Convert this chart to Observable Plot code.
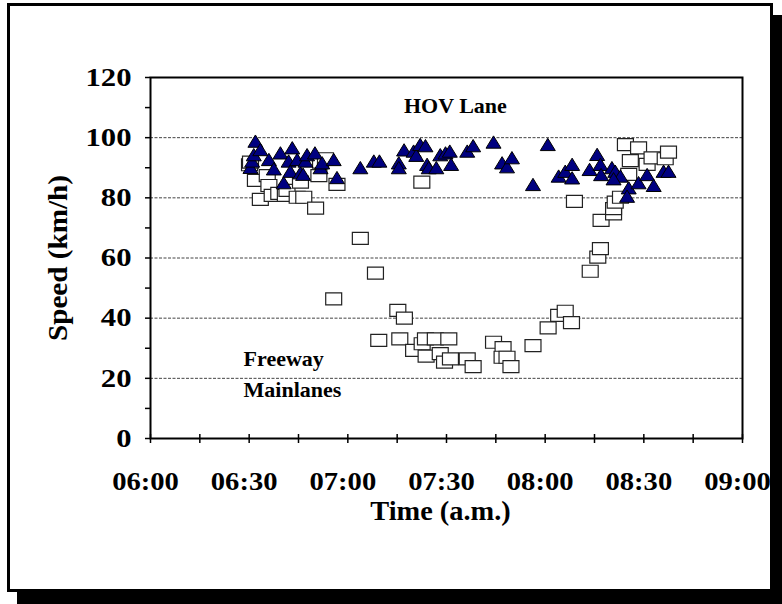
<!DOCTYPE html>
<html>
<head>
<meta charset="utf-8">
<script src="https://cdn.jsdelivr.net/npm/d3@7"></script>
<script src="https://cdn.jsdelivr.net/npm/@observablehq/plot@0.6"></script>
<style>
  html, body { margin: 0; padding: 0; background: #fff; }
  #wrap { position: relative; width: 782px; height: 604px; overflow: hidden; }
  #box { position: absolute; left: 7px; top: 3px; width: 760px; height: 583px;
         border: 3px solid #000; box-shadow: 10px 12px 0 #000; background: #fff; }
  #chart { position: absolute; left: 0; top: 0; }
  svg text { font-family: "Liberation Serif", "Times New Roman", serif; font-weight: bold; fill: #000; }
</style>
</head>
<body>
<div id="wrap"><div id="box"></div><div id="chart"></div></div>
<script>
// Minutes after 06:00 and speed (km/h)
const hovTime = [30.4,30.9,31.4,31.9,33.4,36,37.5,39.5,40.5,42,42.5,43.1,44.6,45.6,46.4,47.1,47.6,50,51.7,52.2,55.7,56.7,63.8,67.9,69.6,75.5,75.5,77.1,80,80.8,82,83.6,84.1,84.6,86.9,88.1,89.7,91,91.4,96.3,98.1,104.3,106.9,108.4,109.9,116.3,120.8,124.1,126.1,128.2,128.2,133.5,135.8,136.8,137,140.3,141.3,142.9,140.8,145.4,144.9,148.4,151,153,156,157.5];
const hovSpeed = [89.8,91.9,94,98.5,95.7,92.4,89.3,94.6,84.7,91.9,88.5,96.3,92.4,88,87.5,91.9,94,94.6,89.7,91.3,92.4,86.4,89.7,91.9,91.9,91.3,89.7,95.6,95.2,93.8,97.4,97,90.8,89.7,89.7,94,94.6,95.2,90.8,95.2,97,98.2,91.3,90,93,84.1,97.4,86.9,88.5,90.8,86.3,89.1,94.1,90.8,87.4,89.7,88.5,86.9,86,83,80.2,84.7,87.4,83.8,88.5,88.5];
const fwyTime = [30.1,30.4,31.9,33.4,35.5,36,37,39,41,41.5,44.6,45.6,46.6,50.2,51.2,51.7,53.2,56.7,55.7,63.8,68.4,69.4,75.2,77.2,75.8,80,82.6,83.6,83.8,82.5,86.6,88.1,89.4,90.7,91.2,96.3,98.1,104.3,107.2,106.9,108.4,109.6,116.3,120.9,124.1,126.1,128,128.9,133.7,136,136.8,137,140.8,140.8,141.3,142.9,144.4,145.4,145.9,148.4,151,152.5,156.5,157.5];
const fwySpeed = [91,91.9,85.8,79.5,87.4,84.1,80.8,81.5,80.8,82.5,80.2,85.2,80.2,76.6,87.4,91.9,93,84.5,46.4,66.5,55,32.6,42.6,40,33.1,29.3,31.5,33.1,27.4,85.2,33.1,28.2,25.4,33.1,26.5,26.5,23.9,32,30.2,27,27,23.9,30.9,36.8,40.9,42.3,38.5,78.8,55.6,60.3,63.1,72.5,74.7,76.4,78.6,80.2,97.7,87.8,92.4,96.6,91.1,93.3,93,95.2];
const timeTicks = [0,30,60,90,120,150,180];
const timeLabels = ["06:00","06:30","07:00","07:30","08:00","08:30","09:00"];
const speedTicks = [0,20,40,60,80,100,120];
const gridSpeeds = [20,40,60,80,100];
const hovLabel = ["HOV Lane"];
const fwyLabel = ["Freeway","Mainlanes"];
const hovLabelTime = [92.7], hovLabelSpeed = [110.7];
const fwyLabelTime = [28.3,28.3], fwyLabelSpeed = [26.3,16.0];

const hov = hovTime.map((t,i)=>({t, v: hovSpeed[i]}));
const fwy = fwyTime.map((t,i)=>({t, v: fwySpeed[i]}));
const hovAnno = hovLabel.map((s,i)=>({s, t: hovLabelTime[i], v: hovLabelSpeed[i]}));
const fwyAnno = fwyLabel.map((s,i)=>({s, t: fwyLabelTime[i], v: fwyLabelSpeed[i]}));

const rectSymbol = { draw(ctx, size) { const a = Math.sqrt(size/Math.PI);
  ctx.moveTo(-1.33*a,-a); ctx.lineTo(1.33*a,-a); ctx.lineTo(1.33*a,a); ctx.lineTo(-1.33*a,a); ctx.closePath(); } };
const triSymbol = { draw(ctx, size) { const a = Math.sqrt(size/Math.PI);
  ctx.moveTo(0,-1.2*a); ctx.lineTo(1.25*a,0.85*a); ctx.lineTo(-1.25*a,0.85*a); ctx.closePath(); } };

const minor10 = d3.range(0,121,10);
const minor15 = d3.range(0,181,15);

const chart = Plot.plot({
  width: 782, height: 604,
  marginLeft: 150, marginRight: 40, marginTop: 77, marginBottom: 166,
  style: {background: "transparent", overflow: "visible"},
  x: {domain: [0,180], axis: null},
  y: {domain: [0,120], axis: null},
  marks: [
    Plot.ruleY(gridSpeeds, {stroke: "#444", strokeWidth: 1, strokeDasharray: "3,1.5"}),
    Plot.axisY({ticks: minor10, tickSize: 5, tickFormat: () => "", stroke: "#000", strokeWidth: 1.5, label: null}),
    Plot.axisY({ticks: speedTicks, tickSize: 0, tickPadding: 19, tickFormat: d => String(d), fontSize: 26, label: null}),
    Plot.axisX({ticks: minor15, tickSize: 9, dy: -4, tickFormat: () => "", stroke: "#000", strokeWidth: 1.5, label: null}),
    Plot.axisX({ticks: timeTicks, tickSize: 0, tickPadding: 33, dx: -5, tickFormat: d => timeLabels[timeTicks.indexOf(d)], fontSize: 26, label: null}),
    Plot.frame({stroke: "#000", strokeWidth: 2}),
    Plot.dot(fwy, {x: "t", y: "v", symbol: rectSymbol, r: 6, fill: "#fff", stroke: "#222", strokeWidth: 1.2}),
    Plot.dot(hov, {x: "t", y: "v", symbol: triSymbol, r: 6, fill: "#000080", stroke: "#000", strokeWidth: 1}),
    Plot.text(hovAnno, {x: "t", y: "v", text: "s", textAnchor: "middle", fontSize: 22}),
    Plot.text(fwyAnno, {x: "t", y: "v", text: "s", textAnchor: "start", fontSize: 22}),
    Plot.text(["Time (a.m.)"], {frameAnchor: "bottom", text: d => d, dy: 81, dx: -6, fontSize: 27}),
    Plot.text(["Speed (km/h)"], {frameAnchor: "left", text: d => d, rotate: -90, dx: -92, textAnchor: "middle", fontSize: 27})
  ]
});
document.getElementById("chart").appendChild(chart);

// Widen the tick labels horizontally, as in the reference's stretched serif type
chart.querySelectorAll("text").forEach(el => {
  const s = el.textContent;
  let k = 0;
  if (/^\d+$/.test(s)) k = 1.18;
  else if (/^\d\d:\d\d$/.test(s)) k = 1.1;
  else if (s === "Speed (km/h)") k = 1.08;
  else if (s === "Time (a.m.)") k = 1.05;
  if (k) {
    const w = el.getComputedTextLength();
    el.setAttribute("textLength", (w * k).toFixed(1));
    el.setAttribute("lengthAdjust", "spacingAndGlyphs");
  }
});
</script>
</body>
</html>
